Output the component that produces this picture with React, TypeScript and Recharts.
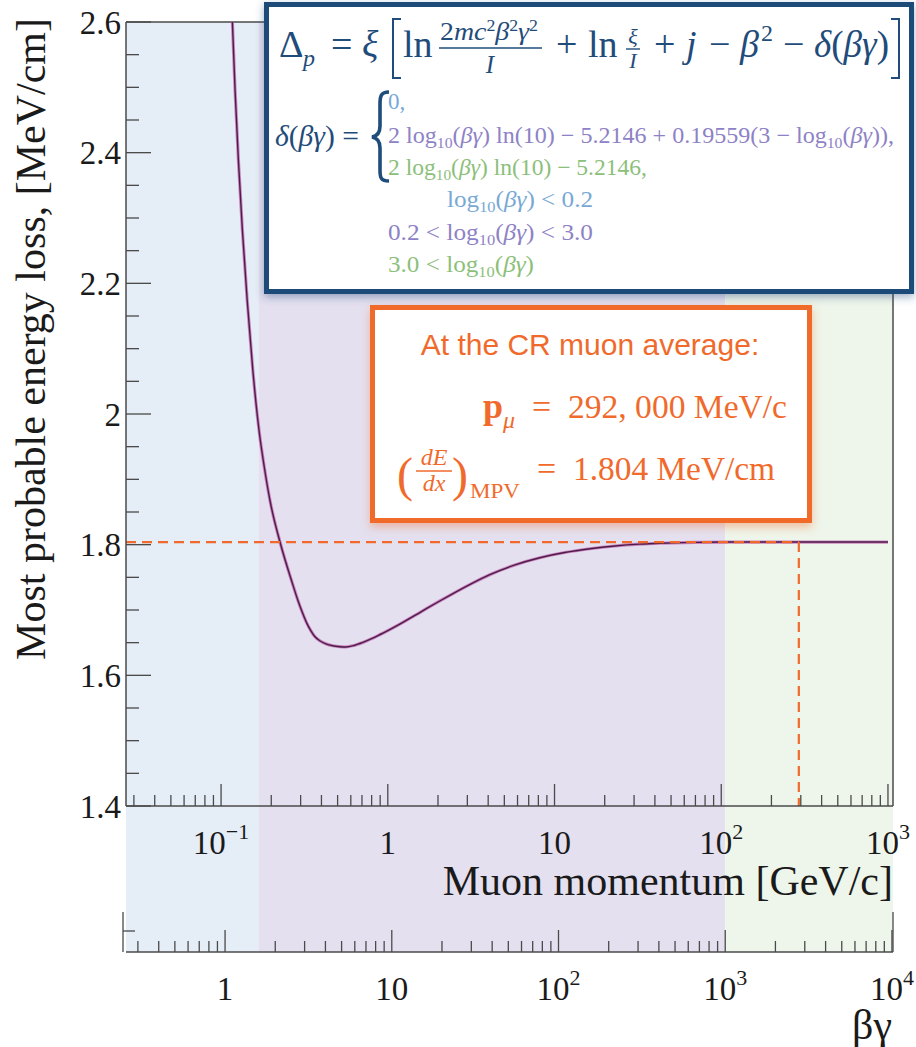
import React from 'react';
import { LineChart, Line, XAxis, YAxis, ReferenceArea, ReferenceLine } from 'recharts';

// Muon momentum [GeV/c] and the most probable energy loss [MeV/cm] along the curve
const momentum = [
  0.1169, 0.1213, 0.127, 0.1342, 0.1434, 0.155, 0.1697, 0.1816, 0.1973, 0.2265,
  0.2674, 0.2884, 0.3091, 0.3266, 0.3452, 0.3648, 0.3909, 0.4247, 0.4678, 0.5153,
  0.5598, 0.6339, 0.745, 0.9, 1.18, 1.6, 2.05, 2.4, 3.16, 4.09,
  5.79, 8.16, 11.5, 16.3, 23, 32.5, 42.8, 70, 102, 300,
  1000,
];
const mpv = [
  2.6, 2.4959, 2.3888, 2.2816, 2.1745, 2.0673, 1.9709, 1.9189, 1.8653, 1.8025,
  1.7413, 1.7153, 1.6945, 1.6799, 1.6685, 1.6594, 1.6529, 1.6483, 1.6452, 1.6438,
  1.6434, 1.6461, 1.6526, 1.6625, 1.6785, 1.698, 1.7138, 1.7236, 1.74, 1.754,
  1.769, 1.78, 1.788, 1.7938, 1.798, 1.8008, 1.8022, 1.8035, 1.804, 1.804,
  1.804,
];

const MUON_MASS = 0.10566; // GeV/c^2, converts p to beta*gamma
const CR_MOMENTUM = 292; // GeV/c
const CR_MPV = 1.804; // MeV/cm

const pMajorTicks = [0.1, 1, 10, 100, 1000];
const bgMajorTicks = [1, 10, 100, 1000, 10000];
const mpvMajorTicks = [1.4, 1.6, 1.8, 2.0, 2.2, 2.4, 2.6];
const mpvMinorTicks = [1.45, 1.5, 1.55, 1.65, 1.7, 1.75, 1.85, 1.9, 1.95, 2.05, 2.1, 2.15, 2.25, 2.3, 2.35, 2.45, 2.5, 2.55];

// log10(beta*gamma) boundaries of the density-correction regimes
const regimeEdges = [0.2, 3.0];
const regimeColors = ['#e5edf6', '#e4e0f0', '#eef5ea'];

const P_DOMAIN: [number, number] = [0.0269, 1072];
const BG_DOMAIN: [number, number] = [P_DOMAIN[0] / MUON_MASS, P_DOMAIN[1] / MUON_MASS];
const Y_MIN = 1.4;
const Y_MAX = 2.6;

// numeric ids keep the momentum axis next to the plot and beta*gamma below it
const P_AXIS = 0;
const BG_AXIS = 1;

const WIDTH = 916;
const HEIGHT = 1047;
const MARGIN = { top: 22, right: 23, left: 0, bottom: 0 };
const Y_AXIS_W = 126;
const P_AXIS_H = 146;
const BG_AXIS_H = 95;
const PLOT_H = HEIGHT - MARGIN.top - P_AXIS_H - BG_AXIS_H;
// shading runs down to the beta*gamma axis line
const SHADE_FLOOR = Y_MIN - ((Y_MAX - Y_MIN) * P_AXIS_H) / PLOT_H;

const AXIS = '#4a4a4a';
const ORANGE = '#f06a2c';
const NAVY = '#1f4c7a';
const CASE_BLUE = '#78a9d4';
const CASE_PURPLE = '#8e82c6';
const CASE_GREEN = '#8cc07a';
const SERIF = '"Liberation Serif", "Times New Roman", serif';
const SANS = '"Liberation Sans", Arial, sans-serif';

const data = momentum.map((p, i) => ({ p, bg: p / MUON_MASS, mpv: mpv[i] }));

function withMinors(majors: number[], lo: number, hi: number) {
  const out: number[] = [];
  majors.forEach((m) => {
    [0.2, 0.3, 0.4, 0.5, 0.6, 0.7, 0.8, 0.9, 1].forEach((k) => {
      const v = m * k;
      if (v >= lo && v <= hi) out.push(v);
    });
  });
  return out;
}
const pTicks = withMinors([...pMajorTicks, 10000], P_DOMAIN[0], P_DOMAIN[1]);
const bgTicks = withMinors([...bgMajorTicks], BG_DOMAIN[0], BG_DOMAIN[1]);

const isMajor = (v: number, majors: number[]) => majors.some((m) => Math.abs(m - v) / m < 1e-6);

function powerLabel(v: number) {
  if (Math.abs(v - 1) < 1e-9) return { base: '1', exp: '' };
  if (Math.abs(v - 10) < 1e-9) return { base: '10', exp: '' };
  const e = Math.round(Math.log10(v));
  return { base: '10', exp: e < 0 ? `\u2212${-e}` : `${e}` };
}

function makeLogTick(majors: number[]) {
  return function LogTick(props: any) {
    const { x, y, payload } = props;
    const v = payload.value as number;
    const major = isMajor(v, majors);
    const lab = powerLabel(v);
    return (
      <g>
        <line x1={x} y1={y} x2={x} y2={y - (major ? 22 : 11)} stroke={AXIS} strokeWidth={1.3} />
        {major && (
          <text x={x} y={y + 48} textAnchor="middle" fontFamily={SERIF} fontSize={33} fill="#1a1a1a">
            {lab.base}
            {lab.exp && (
              <tspan fontSize={22} dy={-15}>
                {lab.exp}
              </tspan>
            )}
          </text>
        )}
      </g>
    );
  };
}

function MpvTick(props: any) {
  const { x, y, payload } = props;
  const v = payload.value as number;
  const major = mpvMajorTicks.some((m) => Math.abs(m - v) < 1e-6);
  return (
    <g>
      <line x1={x} y1={y} x2={x + (major ? 25 : 13)} y2={y} stroke={AXIS} strokeWidth={1.3} />
      {major && (
        <text x={x - 5} y={y} dy="0.35em" textAnchor="end" fontFamily={SERIF} fontSize={33} fill="#1a1a1a">
          {Number(v.toFixed(2)).toString()}
        </text>
      )}
    </g>
  );
}

function MomentumTitle(props: any) {
  const vb = props.viewBox;
  return (
    <text x={vb.x + vb.width} y={vb.y + 89} textAnchor="end" fontFamily={SERIF} fontSize={42} fill="#1a1a1a">
      Muon momentum [GeV/c]
    </text>
  );
}

function BetaGammaTitle(props: any) {
  const vb = props.viewBox;
  const right = vb.x + vb.width;
  return (
    <g>
      <line x1={vb.x - 3} y1={vb.y - 40} x2={vb.x - 3} y2={vb.y} stroke={AXIS} strokeWidth={1.3} />
      <line x1={vb.x - 3} y1={vb.y - 21} x2={vb.x + 9} y2={vb.y - 21} stroke={AXIS} strokeWidth={1.3} />
      <line x1={right} y1={vb.y - 40} x2={right} y2={vb.y} stroke={AXIS} strokeWidth={1.3} />
      <text x={right - 1} y={vb.y + 87} textAnchor="end" fontFamily={SERIF} fontSize={42} fill="#1a1a1a">
        βγ
      </text>
    </g>
  );
}

function MpvTitle(props: any) {
  const vb = props.viewBox;
  const x = vb.x + 45;
  const y = vb.y - 4;
  return (
    <text
      x={x}
      y={y}
      transform={`rotate(-90, ${x}, ${y})`}
      textAnchor="end"
      fontFamily={SERIF}
      fontSize={42}
      fill="#1a1a1a"
    >
      Most probable energy loss, [MeV/cm]
    </text>
  );
}

const Sub10 = () => (
  <>
    <tspan fontSize={15} dy={5}>10</tspan>
    <tspan dy={-5}>(</tspan>
  </>
);
const BG = () => <tspan fontStyle="italic">βγ</tspan>;

function FormulaBox() {
  return (
    <g>
      <rect x={266.5} y={4.5} width={645} height={287} fill="#fff" stroke={NAVY} strokeWidth={5} filter="url(#navyShadow)" />
      <g fill={NAVY} fontFamily={SERIF}>
        <text x={279} y={57} fontSize={38}>Δ</text>
        <text x={303} y={66} fontSize={24} fontStyle="italic">p</text>
        <text x={331} y={57} fontSize={38}>=</text>
        <text x={362} y={57} fontSize={38} fontStyle="italic">ξ</text>
        <path d="M401 19 H393 V78 H401" stroke={NAVY} strokeWidth={2} fill="none" />
        <text x={403} y={57} fontSize={38}>ln</text>
        <text x={440} y={40} fontSize={25} textLength={98} lengthAdjust="spacingAndGlyphs">
          2<tspan fontStyle="italic">mc</tspan>
          <tspan fontSize={16} dy={-9}>2</tspan>
          <tspan dy={9} fontStyle="italic">β</tspan>
          <tspan fontSize={16} dy={-9}>2</tspan>
          <tspan dy={9} fontStyle="italic">γ</tspan>
          <tspan fontSize={16} dy={-9}>2</tspan>
        </text>
        <line x1={439} y1={48} x2={542} y2={48} stroke={NAVY} strokeWidth={1.6} />
        <text x={490} y={73} fontSize={25} fontStyle="italic" textAnchor="middle">I</text>
        <text x={556} y={57} fontSize={38}>+</text>
        <text x={588} y={57} fontSize={38}>ln</text>
        <text x={633} y={44} fontSize={22} fontStyle="italic" textAnchor="middle">ξ</text>
        <line x1={626} y1={49} x2={640} y2={49} stroke={NAVY} strokeWidth={1.4} />
        <text x={633} y={68} fontSize={22} fontStyle="italic" textAnchor="middle">I</text>
        <text x={654} y={57} fontSize={38}>+</text>
        <text x={686} y={57} fontSize={38} fontStyle="italic">j</text>
        <text x={709} y={57} fontSize={38}>−</text>
        <text x={740} y={57} fontSize={38} fontStyle="italic">β</text>
        <text x={761} y={41} fontSize={24}>2</text>
        <text x={783} y={57} fontSize={38}>−</text>
        <text x={814} y={57} fontSize={38} textLength={75} lengthAdjust="spacingAndGlyphs">
          <tspan fontStyle="italic">δ</tspan>(<tspan fontStyle="italic">βγ</tspan>)
        </text>
        <path d="M891 19 H899 V78 H891" stroke={NAVY} strokeWidth={2} fill="none" />

        <text x={275} y={146} fontSize={29} textLength={84} lengthAdjust="spacingAndGlyphs">
          <tspan fontStyle="italic">δ</tspan>(<tspan fontStyle="italic">βγ</tspan>) =
        </text>
        <path
          d="M389 92 C381 92 380 96 380 104 L380 126 C380 132 378 136 372 137 C378 138 380 142 380 148 L380 170 C380 178 381 181 389 181"
          stroke={NAVY}
          strokeWidth={3.6}
          fill="none"
        />
      </g>
      <g fontFamily={SERIF} fontSize={23}>
        <text x={388} y={109} fill={CASE_BLUE}>0,</text>
        <text x={388} y={143} fill={CASE_PURPLE} textLength={506} lengthAdjust="spacingAndGlyphs">
          2 log<Sub10 /><BG />) ln(10) − 5.2146 + 0.19559(3 − log<Sub10 /><BG />)),
        </text>
        <text x={388} y={175} fill={CASE_GREEN} textLength={259} lengthAdjust="spacingAndGlyphs">
          2 log<Sub10 /><BG />) ln(10) − 5.2146,
        </text>
        <text x={447} y={207} fill={CASE_BLUE} textLength={146} lengthAdjust="spacingAndGlyphs">
          log<Sub10 /><BG />) {'<'} 0.2
        </text>
        <text x={388} y={240} fill={CASE_PURPLE} textLength={205} lengthAdjust="spacingAndGlyphs">
          0.2 {'<'} log<Sub10 /><BG />) {'<'} 3.0
        </text>
        <text x={388} y={272} fill={CASE_GREEN} textLength={146} lengthAdjust="spacingAndGlyphs">
          3.0 {'<'} log<Sub10 /><BG />)
        </text>
      </g>
    </g>
  );
}

function ResultBox() {
  return (
    <g fill={ORANGE}>
      <rect x={372.5} y={307.5} width={437} height={213} fill="#fff" stroke={ORANGE} strokeWidth={5} filter="url(#orangeShadow)" />
      <text x={590} y={355} textAnchor="middle" fontFamily={SANS} fontSize={30}>
        At the CR muon average:
      </text>
      <g fontFamily={SERIF}>
        <text x={483} y={418} fontSize={36} fontWeight="bold">p</text>
        <text x={503} y={428} fontSize={24} fontStyle="italic">μ</text>
        <text x={532} y={418} fontSize={34}>=</text>
        <text x={568} y={418} fontSize={34} textLength={219} lengthAdjust="spacingAndGlyphs">
          292, 000 MeV/c
        </text>
        <text x={397} y={491} fontSize={48}>(</text>
        <text x={434} y={465} fontSize={24} fontStyle="italic" textAnchor="middle">dE</text>
        <line x1={416} y1={471} x2={452} y2={471} stroke={ORANGE} strokeWidth={1.6} />
        <text x={434} y={491} fontSize={24} fontStyle="italic" textAnchor="middle">dx</text>
        <text x={452} y={491} fontSize={48}>)</text>
        <text x={470} y={498} fontSize={21} textLength={50} lengthAdjust="spacingAndGlyphs">MPV</text>
        <text x={537} y={480} fontSize={34}>=</text>
        <text x={573} y={480} fontSize={34} textLength={202} lengthAdjust="spacingAndGlyphs">
          1.804 MeV/cm
        </text>
      </g>
    </g>
  );
}

export default function App() {
  const bgEdges = [BG_DOMAIN[0], ...regimeEdges.map((e) => Math.pow(10, e)), BG_DOMAIN[1]];
  return (
    <div style={{ position: 'absolute', left: 0, top: 0, width: WIDTH, height: HEIGHT, background: '#fff' }}>
      <LineChart width={WIDTH} height={HEIGHT} data={data} margin={MARGIN}>
        {regimeColors.map((c, i) => (
          <ReferenceArea
            key={c}
            xAxisId={BG_AXIS}
            x1={bgEdges[i]}
            x2={bgEdges[i + 1]}
            y1={SHADE_FLOOR}
            y2={Y_MAX}
            fill={c}
            fillOpacity={1}
            stroke="none"
            ifOverflow="visible"
          />
        ))}
        <XAxis
          xAxisId={P_AXIS}
          dataKey="p"
          type="number"
          scale="log"
          domain={P_DOMAIN}
          allowDataOverflow
          ticks={pTicks}
          interval={0}
          tick={makeLogTick(pMajorTicks)}
          tickLine={false}
          tickSize={0}
          tickMargin={0}
          axisLine={{ stroke: AXIS, strokeWidth: 1.5 }}
          height={P_AXIS_H}
          label={MomentumTitle}
        />
        <XAxis
          xAxisId={BG_AXIS}
          dataKey="bg"
          type="number"
          scale="log"
          domain={BG_DOMAIN}
          allowDataOverflow
          ticks={bgTicks}
          interval={0}
          tick={makeLogTick(bgMajorTicks)}
          tickLine={false}
          tickSize={0}
          tickMargin={0}
          axisLine={{ stroke: AXIS, strokeWidth: 1.5 }}
          height={BG_AXIS_H}
          label={BetaGammaTitle}
        />
        <YAxis
          type="number"
          domain={[Y_MIN, Y_MAX]}
          allowDataOverflow
          ticks={[...mpvMajorTicks, ...mpvMinorTicks]}
          interval={0}
          tick={MpvTick}
          tickLine={false}
          tickSize={0}
          tickMargin={0}
          axisLine={{ stroke: AXIS, strokeWidth: 1.5 }}
          width={Y_AXIS_W}
          label={MpvTitle}
        />
        <ReferenceLine xAxisId={P_AXIS} y={Y_MAX} stroke={AXIS} strokeWidth={1.5} />
        <ReferenceLine xAxisId={P_AXIS} x={P_DOMAIN[1]} stroke={AXIS} strokeWidth={1.5} />
        <Line
          xAxisId={BG_AXIS}
          dataKey="mpv"
          stroke="none"
          dot={false}
          activeDot={false}
          isAnimationActive={false}
        />
        <Line
          xAxisId={P_AXIS}
          dataKey="mpv"
          type="monotone"
          stroke="#c262ad"
          strokeOpacity={0.75}
          strokeWidth={3.2}
          dot={false}
          activeDot={false}
          isAnimationActive={false}
        />
        <Line
          xAxisId={P_AXIS}
          dataKey="mpv"
          type="monotone"
          stroke="#4d1d48"
          strokeWidth={1.4}
          dot={false}
          activeDot={false}
          isAnimationActive={false}
        />
        <ReferenceLine
          xAxisId={P_AXIS}
          segment={[{ x: P_DOMAIN[0], y: CR_MPV }, { x: CR_MOMENTUM, y: CR_MPV }]}
          stroke={ORANGE}
          strokeWidth={2.2}
          strokeDasharray="10 6"
        />
        <ReferenceLine
          xAxisId={P_AXIS}
          segment={[{ x: CR_MOMENTUM, y: CR_MPV }, { x: CR_MOMENTUM, y: Y_MIN }]}
          stroke={ORANGE}
          strokeWidth={2.2}
          strokeDasharray="10 6"
        />
      </LineChart>
      <svg
        width={WIDTH}
        height={HEIGHT}
        style={{ position: 'absolute', left: 0, top: 0, pointerEvents: 'none' }}
      >
        <defs>
          <filter id="navyShadow" x="-5%" y="-10%" width="110%" height="125%">
            <feDropShadow dx={0} dy={3} stdDeviation={4} floodColor="#2a4f80" floodOpacity={0.45} />
          </filter>
          <filter id="orangeShadow" x="-5%" y="-10%" width="110%" height="125%">
            <feDropShadow dx={0} dy={4} stdDeviation={5} floodColor="#f27a40" floodOpacity={0.45} />
          </filter>
        </defs>
        <FormulaBox />
        <ResultBox />
      </svg>
    </div>
  );
}
